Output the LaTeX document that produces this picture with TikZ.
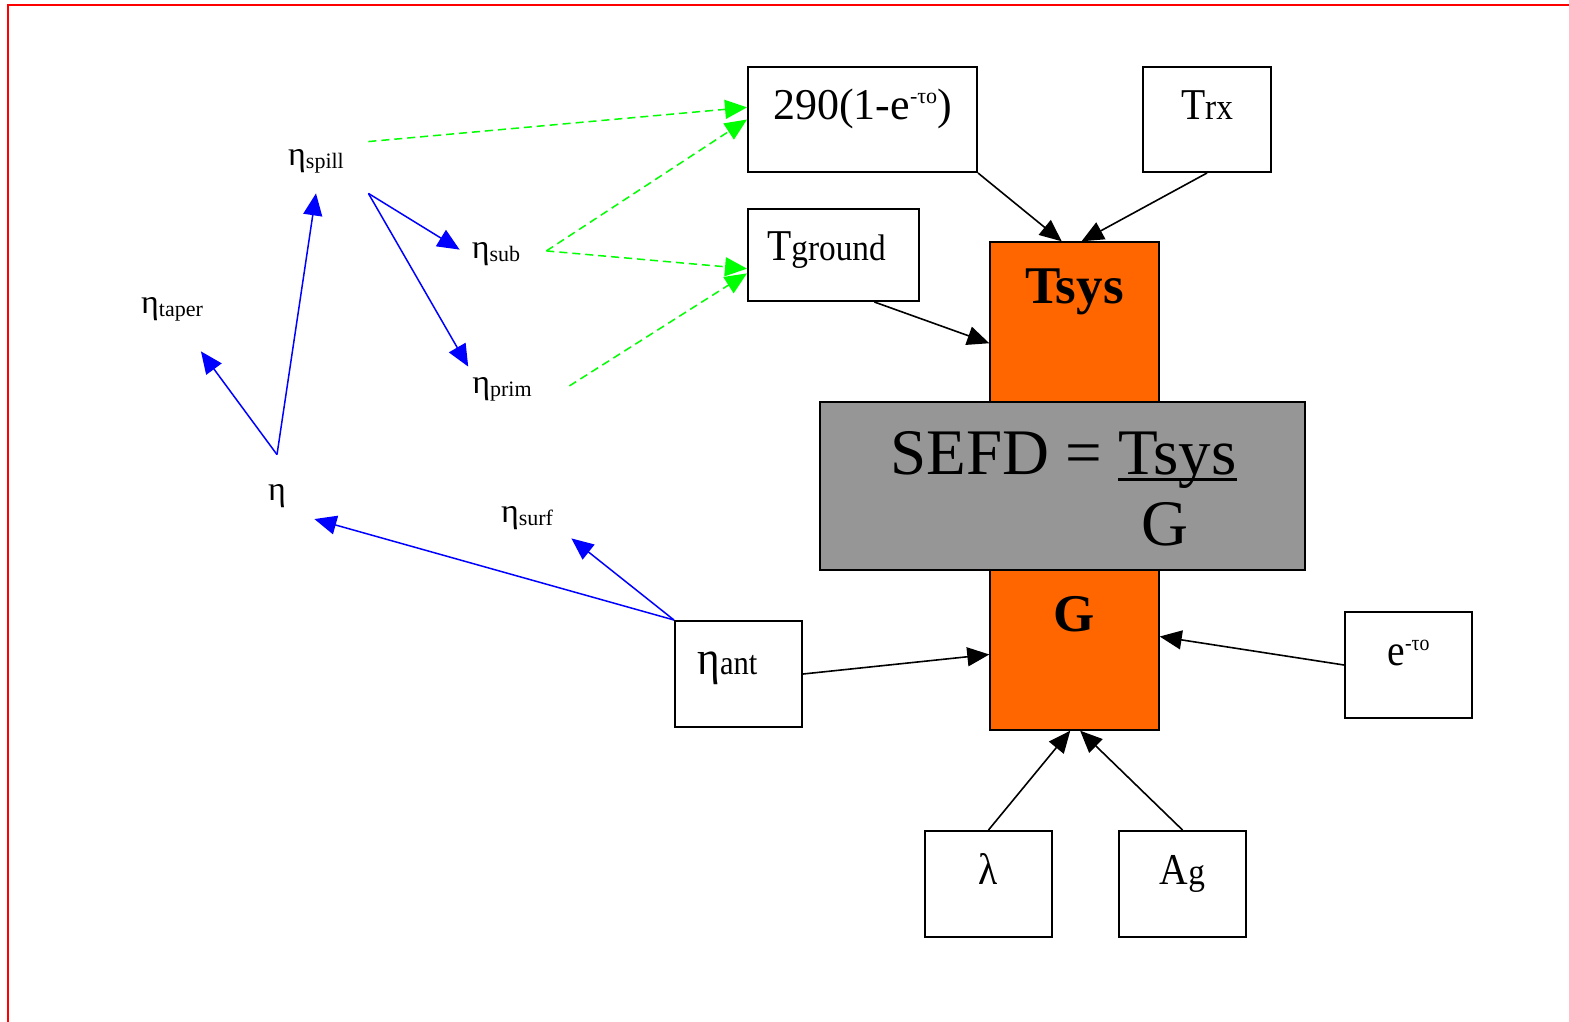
\documentclass[tikz,border=0pt]{standalone}
\usepackage{fontspec}
\setmainfont{Liberation Serif}
\newfontfamily\boxfont{Liberation Serif}[FakeStretch=0.9]
\usetikzlibrary{arrows.meta}

\definecolor{sysorange}{RGB}{255,102,0}
\definecolor{sefdgray}{RGB}{150,150,150}
\definecolor{radgreen}{RGB}{0,255,0}

% subscripts and exponents set on the base line
\newcommand\idx[1]{\raisebox{-1.5pt}{\fontsize{11}{13}\selectfont #1}}
\newcommand\expo[1]{\raisebox{8pt}{\fontsize{11}{13}\selectfont #1}}
\newcommand\tail[1]{{\fontsize{18.5}{22}\selectfont #1}}
\newcommand\overG[1]{\setbox0\hbox{#1}\rlap{\rule[-3.5pt]{\wd0}{1.5pt}}\box0}

\begin{document}
\begin{tikzpicture}[x=0.5pt, y=-0.5pt,
    box/.style={draw, line width=1pt, fill=white, inner sep=0pt,
      minimum width=63.5pt, minimum height=53pt,
      text height=0pt, text depth=0pt, font=\boxfont\fontsize{22}{26}\selectfont},
    sysbox/.style={draw, line width=0.7pt, fill=sysorange, inner sep=0pt,
      minimum width=84.5pt, minimum height=80pt,
      text height=0pt, text depth=19pt, font=\bfseries\fontsize{26.5}{30}\selectfont},
    term/.style={inner sep=0pt, text height=0pt, text depth=0pt,
      font=\fontsize{17}{20}\selectfont},
    feed/.style={line width=0.8pt, -{Triangle[length=11pt, width=9.5pt]}},
    eff/.style={feed, blue, line width=0.75pt},
    rad/.style={line width=0.75pt, radgreen, dash pattern=on 4pt off 2.5pt,
      -{Triangle[length=11pt, width=9.5pt]}}]

  % Frame
  \useasboundingbox (0,0) rectangle (1569,1022);
  \fill[white] (0,0) rectangle (1569,1022);
  \draw[red, line width=1pt] (8,1022) -- (8,5.5) -- (1569,5.5);

  % Tsys and G columns behind the SEFD panel
  \node[sysbox] (tsys) at (1074.5,322) {Tsys};
  \node[sysbox] (gain) at (1074.5,650) {G};
  \node[draw, line width=1pt, fill=sefdgray, minimum width=242.5pt,
    minimum height=84pt] (sefd) at (1062.5,486) {};
  \node[anchor=base, inner sep=0pt, font=\fontsize{32.5}{38}\selectfont]
    (ratio) at (1063.5,474) {SEFD = \overG{Tsys}};
  \node[anchor=base, inner sep=0pt, font=\fontsize{32.5}{38}\selectfont]
    (denom) at (1165,545) {G};

  % Input boxes
  \node[box, minimum width=114.5pt, minimum height=52.5pt,
    font=\fontsize{22}{26}\selectfont] (hot) at (862.5,119.5) {290(1-e\expo{-τo})};
  \node[box, minimum width=64pt, minimum height=52.5pt] (trx) at (1207,119.5) {T\tail{rx}};
  \node[box, minimum width=85.5pt, minimum height=46pt, text height=5pt] (gnd) at (833.5,255) {T\tail{ground}\kern7pt};
  \node[box, font=\boxfont\fontsize{24}{28}\selectfont] (ant) at (738.5,674) {η{\fontsize{17}{20}\selectfont ant}\kern11pt};
  \node[box] (ext) at (1408.5,665) {e\raisebox{-0.5pt}{\expo{-τo}}};
  \node[box] (lam) at (988.5,884) {λ};
  \node[box] (ag) at (1182.5,884) {A\tail{g}};

  % Efficiency terms
  \node[term, minimum width=37pt, minimum height=45pt] (eta) at (277,500) {η};
  \node[term, minimum width=52pt, minimum height=27pt] (spill) at (316,166) {η\idx{spill}};
  \node[term, minimum width=40pt, minimum height=38pt] (taper) at (172,313) {η\idx{taper}};
  \node[term, minimum width=50pt, minimum height=8pt] (sub) at (496,258) {η\idx{sub}};
  \node[term, minimum width=67pt, minimum height=26pt] (prim) at (502,393) {η\idx{prim}};
  \node[term, minimum width=44pt, minimum height=16pt] (surf) at (527,522) {η\idx{surf}};

  % Efficiency tree
  \draw[eff] (eta.north) -- (spill.south);
  \draw[eff] (eta.north) -- (taper.307);
  \draw[eff] (spill.south east) -- (sub.167);
  \draw[eff] (spill.south east) -- (prim.142);
  \draw[eff] (ant.north west) -- (eta.333);
  \draw[eff] (ant.north west) -- (surf.south east);

  % Spillover to temperatures
  \draw[rad] (spill.25) -- (hot.174);
  \draw[rad] (sub.8) -- (hot.west);
  \draw[rad] (sub.8) -- (gnd.189);
  \draw[rad] (prim.6) -- (gnd.192);

  % Into Tsys and G
  \draw[feed] (hot.south east) -- (tsys.99);
  \draw[feed] (trx.south) -- (tsys.85);
  \draw[feed] (gnd.311) -- (tsys.194);
  \draw[feed] (ant.east) -- (gain.183);
  \draw[feed] (ext.west) -- (gain.9);
  \draw[feed] (lam.north) -- (gain.267);
  \draw[feed] (ag.north) -- (gain.274);
\end{tikzpicture}
\end{document}
